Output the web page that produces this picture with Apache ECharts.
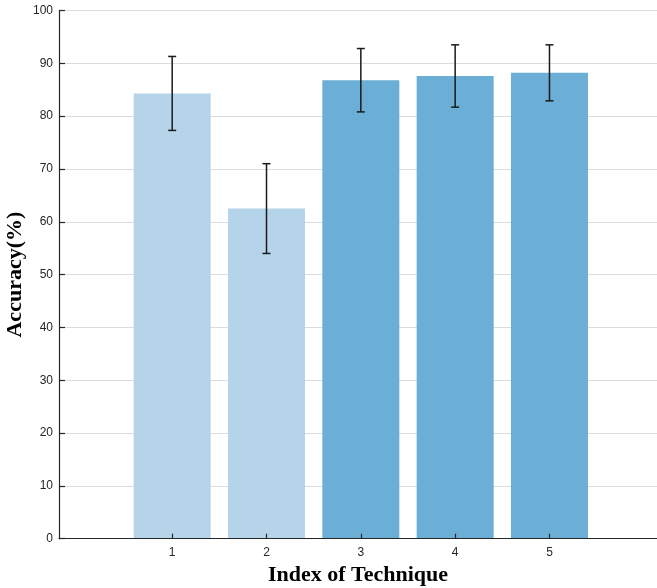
<!DOCTYPE html>
<html>
<head>
<meta charset="utf-8">
<script src="https://cdn.jsdelivr.net/npm/echarts@6/dist/echarts.min.js"></script>
<style>
html,body{margin:0;padding:0;background:#fff;}
#chart{width:657px;height:588px;}
</style>
</head>
<body>
<div id="chart"></div>
<script>
const techniques = [1, 2, 3, 4, 5];
const tickLabels = ['1', '2', '3', '4', '5'];
const accuracy = [84.3, 62.5, 86.8, 87.6, 88.2];
const errorHalf = [7.0, 8.5, 6.0, 5.9, 5.3];
const yTicks = [0, 10, 20, 30, 40, 50, 60, 70, 80, 90, 100];

const lightColor = '#b6d4e9';
const darkColor = '#6baed6';

const chart = echarts.init(document.getElementById('chart'), null, {renderer: 'canvas'});

const barData = techniques.map((t, i) => [t, accuracy[i]]);
const errData = techniques.map((t, i) => [t, accuracy[i] - errorHalf[i], accuracy[i] + errorHalf[i]]);

chart.setOption({
  animation: false,
  backgroundColor: '#ffffff',
  grid: {left: 59, right: 0, top: 10.5, bottom: 49.3, containLabel: false, outerBoundsMode: 'none'},
  xAxis: {
    type: 'value',
    z: 10,
    min: -0.2,
    max: 6.14,
    name: 'Index of Technique',
    nameLocation: 'middle',
    nameGap: 26,
    nameMoveOverlap: false,
    nameTextStyle: {fontFamily: 'Liberation Serif', fontWeight: 'bold', fontSize: 22, color: '#000'},
    splitLine: {show: false},
    axisLine: {onZero: false, lineStyle: {color: '#262626', width: 1.2}},
    axisTick: {show: true, inside: true, length: 5, customValues: techniques, lineStyle: {color: '#262626', width: 1.2}},
    axisLabel: {
      customValues: techniques,
      formatter: v => tickLabels[techniques.indexOf(Math.round(v))] || '',
      color: '#262626', fontSize: 12, fontFamily: 'Liberation Sans', margin: 8
    }
  },
  yAxis: {
    type: 'value',
    min: 0,
    max: 100,
    interval: 10,
    name: 'Accuracy(%)',
    nameLocation: 'middle',
    nameGap: 33,
    nameMoveOverlap: false,
    nameTextStyle: {fontFamily: 'Liberation Serif', fontWeight: 'bold', fontSize: 22, color: '#000'},
    axisLine: {show: true, onZero: false, lineStyle: {color: '#262626', width: 1.2}},
    axisTick: {show: true, inside: true, length: 6, lineStyle: {color: '#262626', width: 1.2}},
    axisLabel: {
      formatter: v => yTicks.includes(v) ? String(v) : '',
      color: '#262626', fontSize: 12, fontFamily: 'Liberation Sans', margin: 6
    },
    splitLine: {show: true, lineStyle: {color: '#dcdcdc', width: 1}}
  },
  series: [
    {
      type: 'bar',
      data: barData,
      barWidth: 77,
      itemStyle: {color: p => p.dataIndex < 2 ? lightColor : darkColor},
      z: 2
    },
    {
      type: 'custom',
      data: errData,
      z: 5,
      renderItem: function (params, api) {
        const x = api.value(0);
        const lo = api.coord([x, api.value(1)]);
        const hi = api.coord([x, api.value(2)]);
        const cap = 4;
        const style = {stroke: '#1a1a1a', lineWidth: 1.5};
        return {
          type: 'group',
          children: [
            {type: 'line', shape: {x1: lo[0], y1: lo[1], x2: hi[0], y2: hi[1]}, style: style},
            {type: 'line', shape: {x1: lo[0] - cap, y1: lo[1], x2: lo[0] + cap, y2: lo[1]}, style: style},
            {type: 'line', shape: {x1: hi[0] - cap, y1: hi[1], x2: hi[0] + cap, y2: hi[1]}, style: style}
          ]
        };
      }
    }
  ]
});
</script>
</body>
</html>
